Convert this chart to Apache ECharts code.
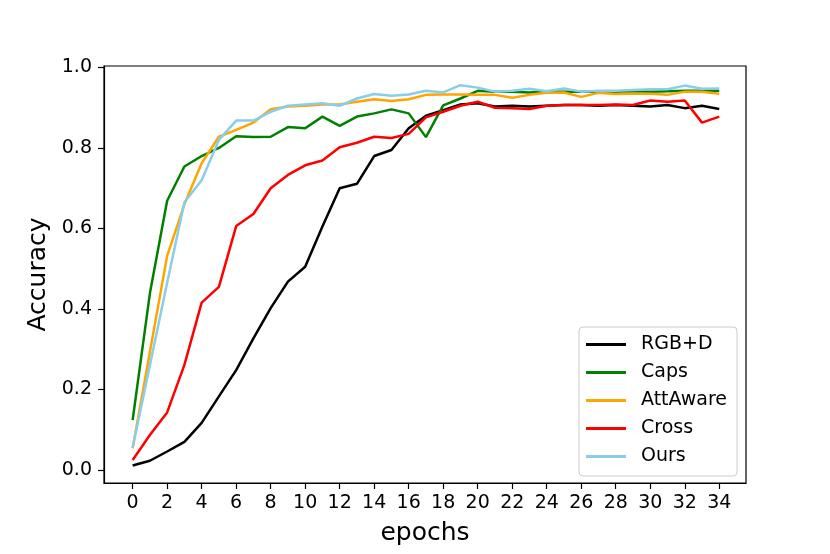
<!DOCTYPE html>
<html>
<head>
<meta charset="utf-8">
<script src="https://cdn.jsdelivr.net/npm/echarts@6/dist/echarts.min.js"></script>
<style>
html, body { margin: 0; padding: 0; background: #fff; }
#container { width: 830px; height: 554px; }
</style>
</head>
<body>
<div id="container"></div>
<script>
// data
var epochs = [0, 1, 2, 3, 4, 5, 6, 7, 8, 9, 10, 11, 12, 13, 14, 15, 16, 17,
              18, 19, 20, 21, 22, 23, 24, 25, 26, 27, 28, 29, 30, 31, 32, 33, 34];
var xTicks = [0, 2, 4, 6, 8, 10, 12, 14, 16, 18, 20, 22, 24, 26, 28, 30, 32, 34];
var yTicks = [0, 0.2, 0.4, 0.6, 0.8, 1.0];
var names = ['RGB+D', 'Caps', 'AttAware', 'Cross', 'Ours'];
var colors = ['#000000', '#008000', '#ffa500', '#ff0000', '#87ceeb'];

var rgbd = [0.011, 0.023, 0.046, 0.070, 0.117, 0.183, 0.248, 0.327, 0.402, 0.468, 0.505, 0.605,
            0.700, 0.711, 0.780, 0.795, 0.849, 0.880, 0.894, 0.908, 0.911, 0.903, 0.905, 0.903,
            0.905, 0.907, 0.907, 0.905, 0.907, 0.905, 0.903, 0.907, 0.899, 0.905, 0.897];
var caps = [0.124, 0.439, 0.669, 0.754, 0.780, 0.800, 0.829, 0.827, 0.828, 0.852, 0.849, 0.878,
            0.855, 0.878, 0.886, 0.896, 0.886, 0.827, 0.906, 0.923, 0.942, 0.940, 0.940, 0.938,
            0.941, 0.940, 0.940, 0.940, 0.940, 0.941, 0.940, 0.941, 0.942, 0.942, 0.942];
var attaware = [0.054, 0.293, 0.532, 0.660, 0.762, 0.828, 0.845, 0.863, 0.896, 0.903, 0.905, 0.908,
                0.908, 0.915, 0.921, 0.917, 0.921, 0.932, 0.933, 0.933, 0.932, 0.932, 0.925, 0.932,
                0.937, 0.938, 0.927, 0.937, 0.934, 0.935, 0.935, 0.932, 0.940, 0.940, 0.935];
var cross = [0.025, 0.087, 0.143, 0.261, 0.416, 0.455, 0.606, 0.636, 0.700, 0.733, 0.757, 0.769,
             0.802, 0.813, 0.828, 0.825, 0.835, 0.876, 0.890, 0.905, 0.915, 0.900, 0.899, 0.897,
             0.905, 0.907, 0.907, 0.907, 0.908, 0.907, 0.918, 0.915, 0.918, 0.863, 0.878];
var ours = [0.055, 0.260, 0.465, 0.665, 0.720, 0.820, 0.868, 0.868, 0.890, 0.905, 0.908, 0.911,
            0.905, 0.923, 0.934, 0.930, 0.933, 0.942, 0.938, 0.956, 0.950, 0.940, 0.942, 0.947,
            0.941, 0.948, 0.940, 0.942, 0.942, 0.944, 0.946, 0.946, 0.955, 0.947, 0.948];

var values = [rgbd, caps, attaware, cross, ours];
var font = 'DejaVu Sans';

var chart = echarts.init(document.getElementById('container'));

var series = names.map(function (name, k) {
    return {
        name: name,
        type: 'line',
        data: epochs.map(function (e, i) { return [e, values[k][i]]; }),
        symbol: 'none',
        lineStyle: { color: colors[k], width: 2.5 },
        itemStyle: { color: colors[k] }
    };
});

var option = {
    animation: false,
    backgroundColor: '#fff',
    grid: {
        left: 104, right: 84, top: 66, bottom: 71,
        show: true, borderColor: '#000', borderWidth: 1.2
    },
    legend: {
        data: names,
        orient: 'vertical',
        left: 579, top: 327,
        icon: 'rect',
        itemWidth: 40, itemHeight: 3,
        itemGap: 9,
        padding: [8, 10, 10, 7],
        backgroundColor: 'rgba(255,255,255,0.8)',
        borderColor: '#cccccc', borderWidth: 1, borderRadius: 4,
        itemStyle: { borderWidth: 0 },
        textStyle: { fontFamily: font, fontSize: 19, lineHeight: 19, color: '#000', padding: [0, 0, 0, 10] }
    },
    xAxis: {
        type: 'value',
        min: -1.66, max: 35.55,
        name: 'epochs',
        nameLocation: 'middle',
        nameGap: 38,
        nameTextStyle: { fontFamily: font, fontSize: 25, color: '#000' },
        axisLine: { onZero: false, lineStyle: { color: '#000', width: 1.2 } },
        axisTick: { show: true, length: 6, lineStyle: { color: '#000', width: 1.2 }, customValues: xTicks },
        axisLabel: { fontFamily: font, fontSize: 19, color: '#000', margin: 11, customValues: xTicks },
        splitLine: { show: false }
    },
    yAxis: {
        type: 'value',
        min: -0.0323, max: 1.0037,
        name: 'Accuracy',
        nameLocation: 'middle',
        nameRotate: 90,
        nameGap: 53,
        nameTextStyle: { fontFamily: font, fontSize: 25, color: '#000' },
        axisLine: { show: true, onZero: false, lineStyle: { color: '#000', width: 1.2 } },
        axisTick: { show: true, length: 6, lineStyle: { color: '#000', width: 1.2 }, customValues: yTicks },
        axisLabel: {
            fontFamily: font, fontSize: 19, color: '#000', margin: 12, customValues: yTicks,
            formatter: function (v) { return v.toFixed(1); }
        },
        splitLine: { show: false }
    },
    series: series
};

chart.setOption(option);
</script>
</body>
</html>
